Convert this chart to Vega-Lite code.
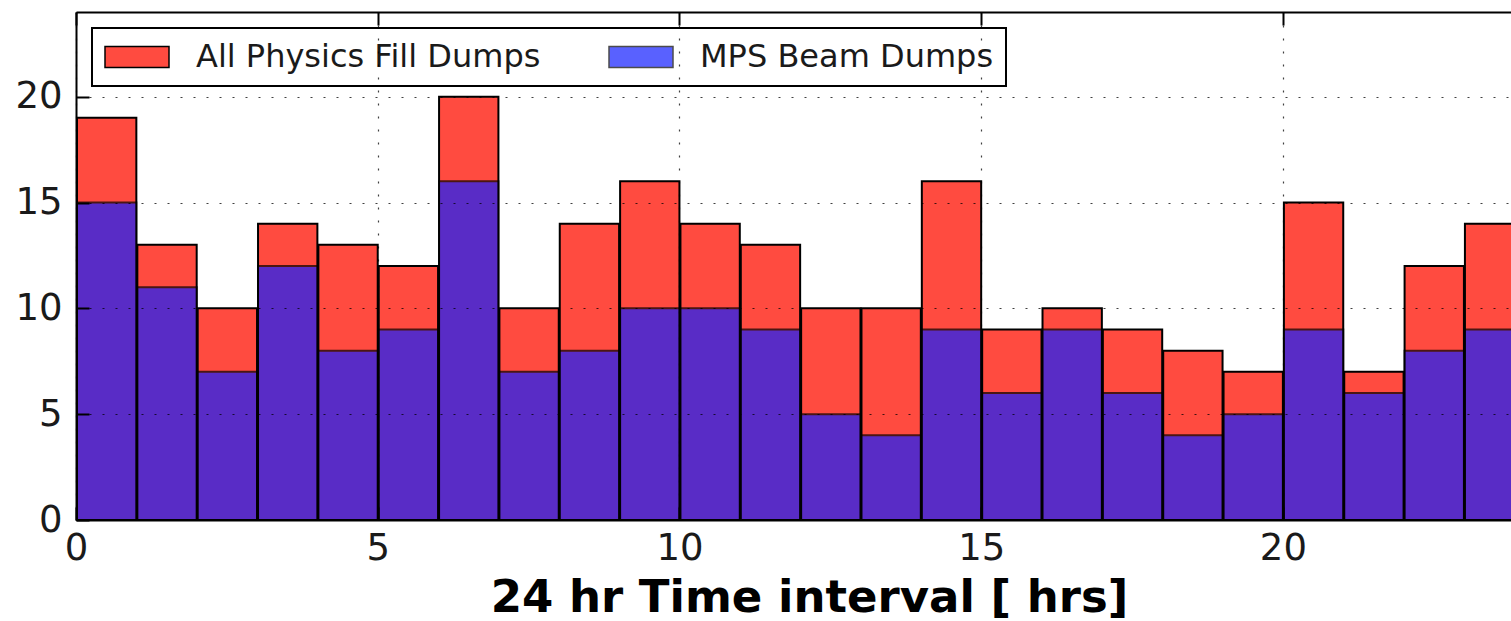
{
  "$schema": "https://vega.github.io/schema/vega-lite/v6.json",
  "autosize": {"type": "none"},
  "padding": {"left": 76, "top": 12, "right": 0, "bottom": 101},
  "width": 1435,
  "height": 508,
  "background": "white",
  "config": {
    "view": {"stroke": null},
    "font": "DejaVu Sans",
    "axis": {
      "zindex": 1,
      "domainColor": "black",
      "domainWidth": 2,
      "tickColor": "black",
      "tickWidth": 2,
      "tickSize": -13,
      "labelColor": "#1a1a1a",
      "labelFont": "DejaVu Sans",
      "labelFontSize": 37,
      "labelFlush": false,
      "labelOverlap": false,
      "gridColor": "black",
      "gridDash": [2, 11],
      "gridWidth": 1.2,
      "gridOpacity": 0.75
    },
    "legend": {
      "strokeColor": "black",
      "strokeWidth": 2,
      "fillColor": "white",
      "cornerRadius": 0,
      "padding": 12,
      "labelFont": "DejaVu Sans",
      "labelFontSize": 32,
      "labelColor": "#1a1a1a",
      "labelLimit": 0,
      "labelOffset": 26,
      "columnPadding": 67,
      "symbolType": "M-1,-0.33L1,-0.33L1,0.33L-1,0.33Z",
      "symbolSize": 4096,
      "symbolStrokeColor": "black",
      "symbolStrokeWidth": 1.5,
      "clipHeight": 34
    }
  },
  "data": {
    "values": [
      {"hour_start": 0, "hour_end": 1, "series": "All Physics Fill Dumps", "count": 19},
      {"hour_start": 1, "hour_end": 2, "series": "All Physics Fill Dumps", "count": 13},
      {"hour_start": 2, "hour_end": 3, "series": "All Physics Fill Dumps", "count": 10},
      {"hour_start": 3, "hour_end": 4, "series": "All Physics Fill Dumps", "count": 14},
      {"hour_start": 4, "hour_end": 5, "series": "All Physics Fill Dumps", "count": 13},
      {"hour_start": 5, "hour_end": 6, "series": "All Physics Fill Dumps", "count": 12},
      {"hour_start": 6, "hour_end": 7, "series": "All Physics Fill Dumps", "count": 20},
      {"hour_start": 7, "hour_end": 8, "series": "All Physics Fill Dumps", "count": 10},
      {"hour_start": 8, "hour_end": 9, "series": "All Physics Fill Dumps", "count": 14},
      {"hour_start": 9, "hour_end": 10, "series": "All Physics Fill Dumps", "count": 16},
      {"hour_start": 10, "hour_end": 11, "series": "All Physics Fill Dumps", "count": 14},
      {"hour_start": 11, "hour_end": 12, "series": "All Physics Fill Dumps", "count": 13},
      {"hour_start": 12, "hour_end": 13, "series": "All Physics Fill Dumps", "count": 10},
      {"hour_start": 13, "hour_end": 14, "series": "All Physics Fill Dumps", "count": 10},
      {"hour_start": 14, "hour_end": 15, "series": "All Physics Fill Dumps", "count": 16},
      {"hour_start": 15, "hour_end": 16, "series": "All Physics Fill Dumps", "count": 9},
      {"hour_start": 16, "hour_end": 17, "series": "All Physics Fill Dumps", "count": 10},
      {"hour_start": 17, "hour_end": 18, "series": "All Physics Fill Dumps", "count": 9},
      {"hour_start": 18, "hour_end": 19, "series": "All Physics Fill Dumps", "count": 8},
      {"hour_start": 19, "hour_end": 20, "series": "All Physics Fill Dumps", "count": 7},
      {"hour_start": 20, "hour_end": 21, "series": "All Physics Fill Dumps", "count": 15},
      {"hour_start": 21, "hour_end": 22, "series": "All Physics Fill Dumps", "count": 7},
      {"hour_start": 22, "hour_end": 23, "series": "All Physics Fill Dumps", "count": 12},
      {"hour_start": 23, "hour_end": 24, "series": "All Physics Fill Dumps", "count": 14},
      {"hour_start": 0, "hour_end": 1, "series": "MPS Beam Dumps", "count": 15},
      {"hour_start": 1, "hour_end": 2, "series": "MPS Beam Dumps", "count": 11},
      {"hour_start": 2, "hour_end": 3, "series": "MPS Beam Dumps", "count": 7},
      {"hour_start": 3, "hour_end": 4, "series": "MPS Beam Dumps", "count": 12},
      {"hour_start": 4, "hour_end": 5, "series": "MPS Beam Dumps", "count": 8},
      {"hour_start": 5, "hour_end": 6, "series": "MPS Beam Dumps", "count": 9},
      {"hour_start": 6, "hour_end": 7, "series": "MPS Beam Dumps", "count": 16},
      {"hour_start": 7, "hour_end": 8, "series": "MPS Beam Dumps", "count": 7},
      {"hour_start": 8, "hour_end": 9, "series": "MPS Beam Dumps", "count": 8},
      {"hour_start": 9, "hour_end": 10, "series": "MPS Beam Dumps", "count": 10},
      {"hour_start": 10, "hour_end": 11, "series": "MPS Beam Dumps", "count": 10},
      {"hour_start": 11, "hour_end": 12, "series": "MPS Beam Dumps", "count": 9},
      {"hour_start": 12, "hour_end": 13, "series": "MPS Beam Dumps", "count": 5},
      {"hour_start": 13, "hour_end": 14, "series": "MPS Beam Dumps", "count": 4},
      {"hour_start": 14, "hour_end": 15, "series": "MPS Beam Dumps", "count": 9},
      {"hour_start": 15, "hour_end": 16, "series": "MPS Beam Dumps", "count": 6},
      {"hour_start": 16, "hour_end": 17, "series": "MPS Beam Dumps", "count": 9},
      {"hour_start": 17, "hour_end": 18, "series": "MPS Beam Dumps", "count": 6},
      {"hour_start": 18, "hour_end": 19, "series": "MPS Beam Dumps", "count": 4},
      {"hour_start": 19, "hour_end": 20, "series": "MPS Beam Dumps", "count": 5},
      {"hour_start": 20, "hour_end": 21, "series": "MPS Beam Dumps", "count": 9},
      {"hour_start": 21, "hour_end": 22, "series": "MPS Beam Dumps", "count": 6},
      {"hour_start": 22, "hour_end": 23, "series": "MPS Beam Dumps", "count": 8},
      {"hour_start": 23, "hour_end": 24, "series": "MPS Beam Dumps", "count": 9}
    ]
  },
  "layer": [
    {
      "transform": [{"filter": "datum.series === 'All Physics Fill Dumps'"}],
      "mark": {"type": "bar", "stroke": "black", "strokeWidth": 2, "clip": true},
      "encoding": {
        "x": {
          "field": "hour_start",
          "type": "quantitative",
          "bin": {"binned": true, "step": 1},
          "scale": {"domain": [0, 23.78], "nice": false, "zero": false},
          "axis": {
            "orient": "bottom",
            "zindex": 1,
            "values": [0, 5, 10, 15, 20],
            "grid": true,
            "labelPadding": 23,
            "title": "24 hr Time interval [ hrs]",
            "titleFont": "DejaVu Sans",
            "titleFontSize": 45,
            "titleFontWeight": "bold",
            "titleColor": "black",
            "titleX": 733,
            "titleY": 91,
            "titleAlign": "center",
            "titleBaseline": "alphabetic"
          }
        },
        "x2": {"field": "hour_end"},
        "y": {
          "field": "count",
          "type": "quantitative",
          "stack": null,
          "scale": {"domain": [0, 24], "nice": false},
          "axis": {
            "orient": "left",
            "zindex": 1,
            "values": [0, 5, 10, 15, 20],
            "grid": true,
            "labelPadding": 27,
            "title": null
          }
        },
        "color": {
          "field": "series",
          "type": "nominal",
          "scale": {"domain": ["All Physics Fill Dumps", "MPS Beam Dumps"], "range": ["#FF4B40", "#141FFF"]},
          "legend": {
            "title": null,
            "orient": "top-left",
            "offset": 16,
            "direction": "horizontal",
            "encode": {
              "symbols": {
                "update": {
                  "stroke": {"value": "black"},
                  "strokeWidth": {"value": 1.5}
                }
              }
            }
          }
        },
        "opacity": {
          "field": "series",
          "type": "nominal",
          "scale": {"domain": ["All Physics Fill Dumps", "MPS Beam Dumps"], "range": [1, 0.7]},
          "legend": {"title": null, "orient": "top-left", "offset": 16, "direction": "horizontal"}
        }
      }
    },
    {
      "transform": [{"filter": "datum.series === 'MPS Beam Dumps'"}],
      "mark": {"type": "bar", "stroke": "black", "strokeWidth": 2, "clip": true},
      "encoding": {
        "x": {
          "field": "hour_start",
          "type": "quantitative",
          "bin": {"binned": true, "step": 1},
          "scale": {"domain": [0, 23.78], "nice": false, "zero": false},
          "axis": {
            "orient": "top",
            "zindex": 1,
            "values": [0, 5, 10, 15, 20],
            "grid": false,
            "labels": false,
            "title": null
          }
        },
        "x2": {"field": "hour_end"},
        "y": {"field": "count", "type": "quantitative", "stack": null},
        "color": {"field": "series", "type": "nominal"},
        "opacity": {"field": "series", "type": "nominal"}
      }
    }
  ],
  "resolve": {"axis": {"x": "independent"}}
}
